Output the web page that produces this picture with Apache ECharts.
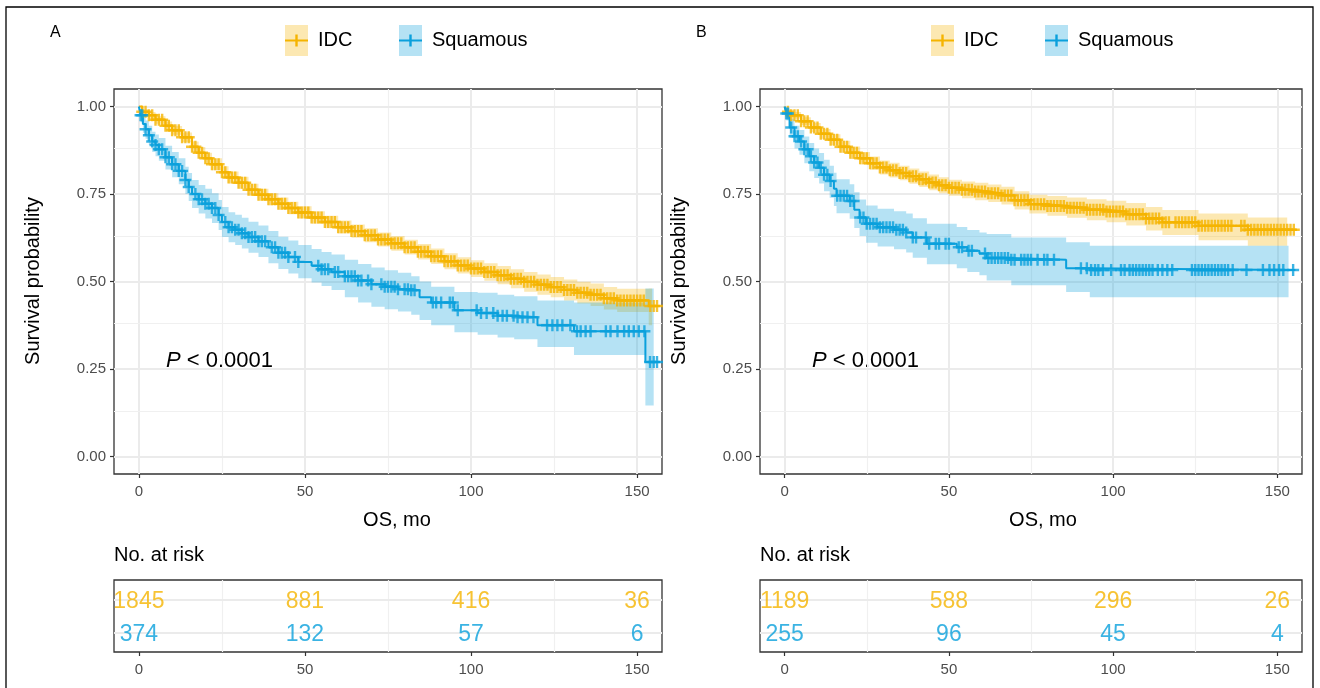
<!DOCTYPE html>
<html>
<head>
<meta charset="utf-8">
<script src="https://cdn.jsdelivr.net/npm/echarts@6/dist/echarts.min.js"></script>
<style>
  html, body { margin: 0; padding: 0; background: #fff; }
  #chart { width: 1320px; height: 688px; }
</style>
</head>
<body>
<div id="chart"></div>
<script>
// KM steps: [time, survival, lower CI, upper CI]; null CI = band has ended
const idcA_curve = [
  [0, 1, 1, 1], [1, 0.985, 0.978, 0.992], [3, 0.975, 0.965, 0.984], [5, 0.962, 0.951, 0.972],
  [8, 0.945, 0.932, 0.957], [10, 0.932, 0.919, 0.944], [13, 0.912, 0.898, 0.926], [16, 0.885, 0.870, 0.900],
  [18, 0.868, 0.852, 0.884], [20, 0.852, 0.836, 0.868], [22, 0.835, 0.818, 0.852], [25, 0.812, 0.795, 0.829],
  [27, 0.797, 0.780, 0.814], [30, 0.782, 0.765, 0.799], [33, 0.762, 0.745, 0.779], [36, 0.748, 0.731, 0.765],
  [39, 0.735, 0.718, 0.752], [42, 0.722, 0.705, 0.740], [45, 0.710, 0.692, 0.728], [48, 0.697, 0.680, 0.715],
  [52, 0.683, 0.665, 0.701], [56, 0.670, 0.652, 0.688], [60, 0.655, 0.637, 0.674], [64, 0.644, 0.625, 0.663],
  [68, 0.632, 0.612, 0.652], [72, 0.620, 0.600, 0.640], [76, 0.609, 0.588, 0.630], [80, 0.598, 0.577, 0.619],
  [84, 0.585, 0.563, 0.607], [88, 0.572, 0.550, 0.594], [92, 0.558, 0.535, 0.581], [96, 0.546, 0.523, 0.569],
  [100, 0.537, 0.513, 0.561], [104, 0.527, 0.502, 0.552], [108, 0.518, 0.492, 0.544], [112, 0.508, 0.481, 0.535],
  [116, 0.499, 0.471, 0.527], [120, 0.491, 0.462, 0.520], [124, 0.484, 0.455, 0.513], [128, 0.476, 0.446, 0.506],
  [132, 0.468, 0.437, 0.499], [136, 0.462, 0.430, 0.494], [140, 0.452, 0.420, 0.484], [144, 0.446, 0.413, 0.479],
  [153.5, 0.430, 0.375, 0.480], [154.5, 0.430, null, null], [157, 0.430, null, null]
];
const sqA_curve = [
  [0, 1, 1, 1], [0.5, 0.975, 0.955, 0.99], [1.2, 0.950, 0.925, 0.972], [2, 0.935, 0.908, 0.96],
  [3, 0.918, 0.890, 0.945], [4, 0.900, 0.870, 0.928], [5, 0.890, 0.858, 0.920], [6, 0.878, 0.845, 0.910],
  [8, 0.855, 0.820, 0.888], [10, 0.835, 0.798, 0.870], [12, 0.816, 0.778, 0.852], [14, 0.790, 0.750, 0.828],
  [15, 0.770, 0.730, 0.810], [16, 0.750, 0.710, 0.790], [18, 0.735, 0.694, 0.776], [20, 0.722, 0.680, 0.765],
  [22, 0.710, 0.667, 0.752], [24, 0.690, 0.647, 0.733], [25, 0.670, 0.627, 0.713], [27, 0.655, 0.612, 0.698],
  [29, 0.648, 0.604, 0.691], [31, 0.638, 0.594, 0.682], [33, 0.627, 0.582, 0.671], [36, 0.615, 0.570, 0.660],
  [39, 0.598, 0.552, 0.644], [42, 0.582, 0.536, 0.628], [45, 0.570, 0.523, 0.617], [48, 0.556, 0.509, 0.604],
  [52, 0.545, 0.497, 0.593], [55, 0.535, 0.487, 0.584], [58, 0.527, 0.476, 0.577], [62, 0.515, 0.455, 0.562],
  [66, 0.503, 0.440, 0.550], [70, 0.492, 0.428, 0.540], [74, 0.485, 0.421, 0.532], [78, 0.478, 0.414, 0.525],
  [82, 0.475, 0.405, 0.515], [84.5, 0.455, 0.390, 0.500], [88, 0.440, 0.375, 0.485], [95, 0.418, 0.355, 0.470],
  [102, 0.410, 0.348, 0.468], [108, 0.402, 0.340, 0.462], [113, 0.398, 0.335, 0.458], [120, 0.375, 0.313, 0.446],
  [131, 0.358, 0.290, 0.440], [152.5, 0.270, 0.146, 0.480], [155, 0.270, null, null], [157, 0.270, null, null]
];
const idcB_curve = [
  [0, 1, 1, 1], [0.5, 0.985, 0.978, 0.992], [2, 0.975, 0.966, 0.984], [5, 0.958, 0.947, 0.969],
  [8, 0.940, 0.927, 0.953], [11, 0.922, 0.908, 0.936], [14, 0.905, 0.889, 0.921], [17, 0.885, 0.868, 0.902],
  [20, 0.868, 0.850, 0.886], [23, 0.852, 0.834, 0.870], [26, 0.838, 0.819, 0.857], [29, 0.826, 0.806, 0.846],
  [32, 0.818, 0.797, 0.839], [35, 0.810, 0.789, 0.831], [38, 0.801, 0.779, 0.823], [41, 0.792, 0.770, 0.814],
  [44, 0.783, 0.761, 0.806], [47, 0.775, 0.752, 0.798], [50, 0.768, 0.745, 0.791], [54, 0.762, 0.738, 0.786],
  [58, 0.757, 0.732, 0.782], [62, 0.752, 0.727, 0.777], [66, 0.746, 0.720, 0.771], [70, 0.732, 0.706, 0.758],
  [74.5, 0.721, 0.694, 0.748], [80, 0.716, 0.688, 0.744], [86, 0.711, 0.682, 0.740], [92, 0.705, 0.675, 0.735],
  [98, 0.700, 0.669, 0.731], [104, 0.692, 0.660, 0.724], [110, 0.680, 0.646, 0.713], [115, 0.669, 0.633, 0.704],
  [126, 0.659, 0.618, 0.694], [141, 0.648, 0.602, 0.683], [153, 0.648, null, null], [156, 0.648, null, null]
];
const sqB_curve = [
  [0, 1, 1, 1], [0.5, 0.980, 0.960, 0.995], [1.5, 0.940, 0.910, 0.965], [3, 0.915, 0.880, 0.945],
  [4.5, 0.900, 0.862, 0.933], [6, 0.878, 0.838, 0.914], [7.5, 0.858, 0.815, 0.896], [9, 0.840, 0.796, 0.880],
  [10.5, 0.825, 0.780, 0.867], [12, 0.805, 0.758, 0.848], [13.7, 0.787, 0.739, 0.831], [15, 0.765, 0.716, 0.811],
  [15.8, 0.745, 0.695, 0.792], [19.8, 0.730, 0.679, 0.778], [21.2, 0.705, 0.653, 0.755], [22.8, 0.683, 0.630, 0.734],
  [24.8, 0.665, 0.611, 0.717], [28.3, 0.655, 0.600, 0.708], [33.3, 0.648, 0.592, 0.701], [37, 0.640, 0.583, 0.694],
  [39, 0.626, 0.568, 0.681], [43.3, 0.608, 0.549, 0.665], [52.4, 0.598, 0.538, 0.656], [55.6, 0.588, 0.527, 0.647],
  [59.3, 0.580, 0.518, 0.640], [61.5, 0.567, 0.503, 0.636], [69, 0.562, 0.489, 0.626], [85.7, 0.538, 0.470, 0.612],
  [92.9, 0.533, 0.455, 0.602], [153.4, 0.533, null, null], [155.5, 0.533, null, null]
];

// censoring times (months)
const idcA_censor = [1, 2, 3, 4, 5, 6, 7, 8, 9, 10, 11, 12, 13, 14, 15, 16, 17, 18, 19, 20,
  21, 22, 23, 24, 25, 26, 27, 28, 29, 30, 31, 32, 33, 34, 35, 36, 37, 38, 39, 40,
  41, 42, 43, 44, 45, 46, 47, 48, 49, 50, 51, 52, 53, 54, 55, 56, 57, 58, 59, 60,
  61, 62, 63, 64, 65, 66, 67, 68, 69, 70, 71, 72, 73, 74, 75, 76, 77, 78, 79, 80,
  81, 82, 83, 84, 85, 86, 87, 88, 89, 90, 91, 92, 93, 94, 95, 96, 97, 98, 99, 100,
  101, 102, 103, 104, 105, 106, 107, 108, 109, 110, 111, 112, 113, 114, 115, 116, 117, 118, 119, 120,
  121, 122, 123, 124, 125, 126, 127, 128, 129, 130, 131, 132, 133, 134, 135, 136, 137, 138, 139, 140,
  141, 142, 143, 144, 145, 146, 147, 148, 149, 150, 151, 152, 154, 155, 156];
const sqA_censor = [0.5, 1, 2, 3, 4, 5, 6, 7, 8, 9, 10, 11, 12, 13, 14, 15, 17, 18, 19, 20, 21, 22, 23, 24,
  26, 27, 28, 29, 30, 31, 32, 33, 34, 35, 36, 37, 38, 40, 41, 42, 43, 44, 45, 47, 48,
  54, 55, 56, 57, 59, 60, 62, 63, 64, 65, 66, 67, 69, 70, 73, 74, 75, 76, 77, 78, 80, 81, 82, 83,
  88.5, 89.5, 91, 93.6, 94.5, 96, 101.7, 103, 104.7, 106.7, 108, 109.5, 110.8, 112.8, 114, 115.5, 117, 118.8,
  122.9, 124.5, 126, 127.5, 129.9, 131.9, 133, 134.5, 136, 140.6, 142, 144.1, 146.1, 147.5, 149, 150.5, 152.2,
  153.9, 155, 156];
const idcB_censor = [1, 2, 3, 4, 5, 6, 7, 8, 9, 10, 11, 12, 13, 14, 15, 16, 17, 18, 19, 20,
  21, 22, 23, 24, 25, 26, 27, 28, 29, 30, 31, 32, 33, 34, 35, 36, 37, 38, 39, 40,
  41, 42, 43, 44, 45, 46, 47, 48, 49, 50, 51, 52, 53, 54, 55, 56, 57, 58, 59, 60,
  61, 62, 63, 64, 65, 66, 67, 68, 69, 70, 71, 72, 73, 74, 75, 76, 77, 78, 79, 80,
  81, 82, 83, 84, 85, 86, 87, 88, 89, 90, 91, 92, 93, 94, 95, 96, 97, 98, 99, 100,
  101, 102, 103, 104, 105, 106, 107, 108, 109, 110, 111, 112, 113, 114, 115, 116, 117, 119, 120,
  121, 122, 123, 124, 125, 126, 127, 128, 129, 130, 131, 132, 133, 134, 135, 136, 139, 140,
  141, 142, 143, 144, 145, 146, 147, 148, 149, 150, 151, 152, 153, 154, 155];
const sqB_censor = [0.5, 1, 2, 3, 4, 5, 6, 7, 8, 9, 10, 11, 12, 13, 14, 16, 17, 18, 19, 20, 21, 23, 24, 25,
  26, 27, 28, 29, 30, 31, 32, 33, 34, 35, 36, 37, 39, 40, 43, 44, 46, 47, 49, 50, 53, 54, 56, 57,
  61, 62, 63, 64, 65, 66, 67, 68, 69, 70, 72, 73, 74, 75, 77, 79, 80, 82,
  90.2, 92, 93.3, 94.5, 95.5, 96.9, 99.4, 102.4, 103.5, 105, 106, 107, 108, 109, 110, 111, 112, 113.6, 115, 116.5, 118,
  124, 125, 126, 127, 128, 129, 130, 131, 132, 133, 134, 135, 136.4, 140.6, 145.6, 147.6, 149, 150.5, 151.8, 154.8];

// number at risk
const riskTimes = [0, 50, 100, 150];
const riskA_idc = [1845, 881, 416, 36];
const riskA_sq = [374, 132, 57, 6];
const riskB_idc = [1189, 588, 296, 26];
const riskB_sq = [255, 96, 45, 4];

const xTicks = [0, 50, 100, 150];
const xMinor = [25, 75, 125];
const yTicks = [0, 0.25, 0.5, 0.75, 1];
const yMinor = [0.125, 0.375, 0.625, 0.875];

const IDC = '#F5B400';
const SQ = '#0AA0DC';
const IDC_BAND = 'rgba(245,180,0,0.3)';
const SQ_BAND = 'rgba(10,160,220,0.3)';
const FONT = 'Liberation Sans, Arial, sans-serif';
const PLUS = 'path://M4,0H6V4H10V6H6V10H4V6H0V4H4Z';

function survAt(rows, t) {
  let s = rows[0][1];
  rows.forEach(r => { if (r[0] <= t) s = r[1]; });
  return s;
}

function bandSeries(rows, color, gi) {
  return {
    type: 'custom', xAxisIndex: gi, yAxisIndex: gi, silent: true, z: 1,
    data: [[0, 0]],
    renderItem: function (params, api) {
      const top = [], bot = [];
      for (let i = 0; i < rows.length - 1; i++) {
        if (rows[i][2] == null) break;
        const t0 = rows[i][0], t1 = rows[i + 1][0];
        top.push(api.coord([t0, rows[i][3]]), api.coord([t1, rows[i][3]]));
        bot.push(api.coord([t0, rows[i][2]]), api.coord([t1, rows[i][2]]));
      }
      return { type: 'polygon', shape: { points: top.concat(bot.reverse()) }, style: { fill: color } };
    }
  };
}

function curveSeries(rows, color, gi) {
  return {
    type: 'line', xAxisIndex: gi, yAxisIndex: gi, step: 'end', symbol: 'none', z: 2, silent: true,
    data: rows.map(r => [r[0], r[1]]),
    lineStyle: { color: color, width: 2 }
  };
}

function censorSeries(rows, times, color, gi) {
  return {
    type: 'scatter', xAxisIndex: gi, yAxisIndex: gi, symbol: PLUS, symbolSize: 12, z: 3, silent: true,
    data: times.map(t => [t, survAt(rows, t)]),
    itemStyle: { color: color }
  };
}

function gridLineSeries(gi, majorX, minorX, majorY, minorY) {
  const major = { color: '#EBEBEB', width: 2, type: 'solid' };
  const minor = { color: '#F0F0F0', width: 1.2, type: 'solid' };
  const data = []
  majorX.forEach(v => data.push({ xAxis: v, lineStyle: major }));
  minorX.forEach(v => data.push({ xAxis: v, lineStyle: minor }));
  majorY.forEach(v => data.push({ yAxis: v, lineStyle: major }));
  minorY.forEach(v => data.push({ yAxis: v, lineStyle: minor }));
  return {
    type: 'line', xAxisIndex: gi, yAxisIndex: gi, data: [], z: 0, silent: true,
    markLine: { z: 0, silent: true, symbol: 'none', animation: false, label: { show: false }, data: data }
  };
}

function riskSeries(values, row, color, gi) {
  return {
    type: 'scatter', xAxisIndex: gi, yAxisIndex: gi, symbolSize: 1, z: 3, silent: true,
    itemStyle: { color: 'rgba(0,0,0,0)' },
    data: riskTimes.map((t, i) => [t, row, values[i]]),
    label: {
      show: true, position: 'inside', offset: [0, 2], formatter: p => p.value[2],
      color: color, fontSize: 23, fontFamily: FONT
    }
  };
}

function xAxisOf(gi) {
  return {
    type: 'value', gridIndex: gi, min: -7.5, max: 157.5, position: 'bottom',
    splitLine: { show: false }, axisLine: { show: false, onZero: false },
    axisTick: { show: true, length: 4, customValues: xTicks, lineStyle: { color: '#333', width: 1.2 } },
    axisLabel: { customValues: xTicks, color: '#4D4D4D', fontSize: 15, margin: 10, fontFamily: FONT }
  };
}

function yAxisPlot(gi) {
  return {
    type: 'value', gridIndex: gi, min: -0.05, max: 1.05, position: 'left',
    splitLine: { show: false }, axisLine: { show: false, onZero: false },
    axisTick: { show: true, length: 4, customValues: yTicks, lineStyle: { color: '#333', width: 1.2 } },
    axisLabel: {
      customValues: yTicks, color: '#4D4D4D', fontSize: 15, margin: 8, fontFamily: FONT,
      formatter: v => v.toFixed(2)
    }
  };
}

function yAxisTable(gi) {
  return {
    type: 'value', gridIndex: gi, min: 0.4, max: 2.6,
    splitLine: { show: false }, axisLine: { show: false, onZero: false }, axisTick: { show: false }, axisLabel: { show: false }
  };
}

function legendKey(x, color, band) {
  return [
    { type: 'rect', shape: { x: x, y: 25, width: 23, height: 31 }, style: { fill: band } },
    { type: 'line', shape: { x1: x, y1: 40.5, x2: x + 23, y2: 40.5 }, style: { stroke: color, lineWidth: 2 } },
    { type: 'line', shape: { x1: x + 11.5, y1: 34.5, x2: x + 11.5, y2: 46.5 }, style: { stroke: color, lineWidth: 2.4 } }
  ];
}

function textEl(x, y, text, size, extra) {
  return Object.assign({
    type: 'text', x: x, y: y,
    style: { text: text, fontSize: size, fontFamily: FONT, fill: '#000', align: 'left', verticalAlign: 'middle' }
  }, extra || {});
}

function panelGraphics(dx, tag) {
  const g = [];
  g.push(textEl(50 + dx, 33, tag, 16));
  g.push(...legendKey(285 + dx, IDC, IDC_BAND));
  g.push(textEl(318 + dx, 40, 'IDC', 20));
  g.push(...legendKey(399 + dx, SQ, SQ_BAND));
  g.push(textEl(432 + dx, 40, 'Squamous', 20));
  g.push({
    type: 'text', x: 33 + dx, y: 281, rotation: Math.PI / 2,
    style: { text: 'Survival probability', fontSize: 20, fontFamily: FONT, fill: '#000', align: 'center', verticalAlign: 'middle' }
  });
  g.push({
    type: 'text', x: 397 + dx, y: 520,
    style: { text: 'OS, mo', fontSize: 20, fontFamily: FONT, fill: '#000', align: 'center', verticalAlign: 'middle' }
  });
  g.push({
    type: 'text', x: 166 + dx, y: 361,
    style: {
      text: '{i|P} < 0.0001', fontSize: 22, fontFamily: FONT, fill: '#000', verticalAlign: 'middle',
      rich: { i: { fontStyle: 'italic', fontSize: 22, fontFamily: FONT } }
    }
  });
  g.push(textEl(114 + dx, 555, 'No. at risk', 20));
  return g;
}

const chart = echarts.init(document.getElementById('chart'), null, { renderer: 'canvas' });

const option = {
  animation: false,
  backgroundColor: '#fff',
  grid: [
    { left: 114, top: 89, width: 548, height: 385, show: true, borderColor: '#333', borderWidth: 1.3, backgroundColor: 'transparent' },
    { left: 760, top: 89, width: 542, height: 385, show: true, borderColor: '#333', borderWidth: 1.3, backgroundColor: 'transparent' },
    { left: 114, top: 580, width: 548, height: 72, show: true, borderColor: '#333', borderWidth: 1.3, backgroundColor: 'transparent' },
    { left: 760, top: 580, width: 542, height: 72, show: true, borderColor: '#333', borderWidth: 1.3, backgroundColor: 'transparent' }
  ],
  xAxis: [xAxisOf(0), xAxisOf(1), xAxisOf(2), xAxisOf(3)],
  yAxis: [yAxisPlot(0), yAxisPlot(1), yAxisTable(2), yAxisTable(3)],
  series: [
    gridLineSeries(0, xTicks, xMinor, yTicks, yMinor),
    gridLineSeries(1, xTicks, xMinor, yTicks, yMinor),
    gridLineSeries(2, [], xMinor, [1, 2], []),
    gridLineSeries(3, [], xMinor, [1, 2], []),

    bandSeries(idcA_curve, IDC_BAND, 0),
    bandSeries(sqA_curve, SQ_BAND, 0),
    curveSeries(idcA_curve, IDC, 0),
    curveSeries(sqA_curve, SQ, 0),
    censorSeries(idcA_curve, idcA_censor, IDC, 0),
    censorSeries(sqA_curve, sqA_censor, SQ, 0),

    bandSeries(idcB_curve, IDC_BAND, 1),
    bandSeries(sqB_curve, SQ_BAND, 1),
    curveSeries(idcB_curve, IDC, 1),
    curveSeries(sqB_curve, SQ, 1),
    censorSeries(idcB_curve, idcB_censor, IDC, 1),
    censorSeries(sqB_curve, sqB_censor, SQ, 1),

    riskSeries(riskA_idc, 2, IDC, 2),
    riskSeries(riskA_sq, 1, SQ, 2),
    riskSeries(riskB_idc, 2, IDC, 3),
    riskSeries(riskB_sq, 1, SQ, 3)
  ],
  graphic: [
    { type: 'rect', shape: { x: 6, y: 7, width: 1307, height: 700 }, style: { fill: 'none', stroke: '#000', lineWidth: 1.3 }, z: -1 },
    ...panelGraphics(0, 'A'),
    ...panelGraphics(646, 'B')
  ]
};

chart.setOption(option);
</script>
</body>
</html>
